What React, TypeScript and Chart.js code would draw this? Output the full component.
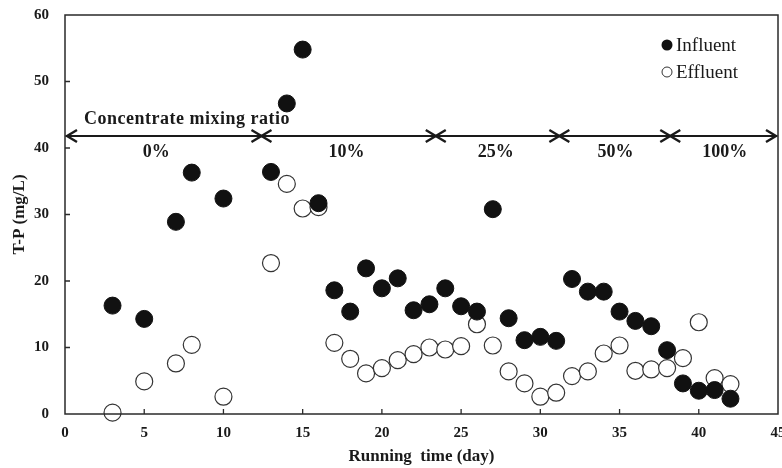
import React, { useEffect, useRef } from "react";
import { Chart, registerables } from "chart.js";

Chart.register(...registerables);

// ---- data ----
const days = [3, 5, 7, 8, 10, 13, 14, 15, 16, 17, 18, 19, 20, 21, 22, 23, 24, 25, 26, 27, 28, 29, 30, 31, 32, 33, 34, 35, 36, 37, 38, 39, 40, 41, 42];
const influent = [16.3, 14.3, 28.9, 36.3, 32.4, 36.4, 46.7, 54.8, 31.7, 18.6, 15.4, 21.9, 18.9, 20.4, 15.6, 16.5, 18.9, 16.2, 15.4, 30.8, 14.4, 11.1, 11.6, 11.0, 20.3, 18.4, 18.4, 15.4, 14.0, 13.2, 9.6, 4.6, 3.5, 3.6, 2.3];
const effluent = [0.2, 4.9, 7.6, 10.4, 2.6, 22.7, 34.6, 30.9, 31.1, 10.7, 8.3, 6.1, 6.9, 8.1, 9.0, 10.0, 9.7, 10.2, 13.5, 10.3, 6.4, 4.6, 2.6, 3.2, 5.7, 6.4, 9.1, 10.3, 6.5, 6.7, 6.9, 8.4, 13.8, 5.4, 4.5];
const seriesNames = ["Influent", "Effluent"];

const phaseBounds = [12.4, 23.4, 31.2, 38.2];
const phaseLabels = ["0%", "10%", "25%", "50%", "100%"];
const phaseLabelDays = [5.76, 17.77, 27.18, 34.75, 41.64];
const phaseLabelValue = 38.6;
const arrowValue = 41.8;
const ratioTitle = "Concentrate mixing ratio";
const ratioTitleDay = 1.2;
const ratioTitleValue = 43.6;

const xTitle = "Running  time (day)";
const yTitle = "T-P (mg/L)";

const SERIF = "'Liberation Serif', 'Times New Roman', serif";

const overlayPlugin = {
  id: "overlay",
  afterDraw(chart: any) {
    const { ctx, chartArea } = chart;
    const { left, right, top, bottom } = chartArea;
    const x = chart.scales.x;
    const y = chart.scales.y;
    ctx.save();
    // frame
    ctx.strokeStyle = "#2a2a2a";
    ctx.lineWidth = 1.5;
    ctx.strokeRect(left, top, right - left, bottom - top);
    // inner ticks
    ctx.lineWidth = 1.3;
    ctx.beginPath();
    for (let v = 5; v < 45; v += 5) {
      const px = x.getPixelForValue(v);
      ctx.moveTo(px, bottom);
      ctx.lineTo(px, bottom - 5);
    }
    for (let v = 10; v < 60; v += 10) {
      const py = y.getPixelForValue(v);
      ctx.moveTo(left, py);
      ctx.lineTo(left + 5, py);
    }
    ctx.stroke();

    // arrow line
    const yp = y.getPixelForValue(arrowValue);
    ctx.strokeStyle = "#1a1a1a";
    ctx.lineWidth = 2;
    ctx.beginPath();
    ctx.moveTo(left + 1, yp);
    ctx.lineTo(right - 1, yp);
    ctx.stroke();
    ctx.lineWidth = 2.4;
    const chevron = (tip: number, dir: number) => {
      ctx.beginPath();
      ctx.moveTo(tip - dir * 10, yp - 6);
      ctx.lineTo(tip, yp);
      ctx.lineTo(tip - dir * 10, yp + 6);
      ctx.stroke();
    };
    chevron(left + 2, -1);
    chevron(right - 2, 1);
    phaseBounds.forEach((b) => {
      const bp = x.getPixelForValue(b);
      chevron(bp, 1);
      chevron(bp, -1);
    });

    // texts
    ctx.fillStyle = "#1a1a1a";
    ctx.font = `bold 18px ${SERIF}`;
    ctx.textBaseline = "alphabetic";
    ctx.textAlign = "left";
    try { (ctx as any).letterSpacing = "0.5px"; } catch (e) {}
    ctx.fillText(ratioTitle, x.getPixelForValue(ratioTitleDay), y.getPixelForValue(ratioTitleValue));
    try { (ctx as any).letterSpacing = "0px"; } catch (e) {}
    ctx.textAlign = "center";
    phaseLabels.forEach((lab, i) => {
      ctx.fillText(lab, x.getPixelForValue(phaseLabelDays[i]), y.getPixelForValue(phaseLabelValue));
    });

    // legend
    const lx = right - 111;
    const ly1 = top + 30;
    const ly2 = top + 57;
    ctx.fillStyle = "#111";
    ctx.beginPath();
    ctx.arc(lx, ly1, 5.5, 0, Math.PI * 2);
    ctx.fill();
    ctx.strokeStyle = "#333";
    ctx.lineWidth = 1;
    ctx.beginPath();
    ctx.arc(lx, ly2, 5, 0, Math.PI * 2);
    ctx.stroke();
    ctx.fillStyle = "#1a1a1a";
    ctx.font = `19px ${SERIF}`;
    ctx.textAlign = "left";
    ctx.textBaseline = "middle";
    ctx.fillText(seriesNames[0], lx + 9, ly1 + 1);
    ctx.fillText(seriesNames[1], lx + 9, ly2 + 1);
    ctx.restore();
  },
};

export default function App() {
  const ref = useRef<HTMLCanvasElement | null>(null);
  useEffect(() => {
    if (!ref.current) return;
    const tickFont = { family: SERIF, size: 15, weight: "bold" as const };
    const titleFont = { family: SERIF, size: 17, weight: "bold" as const };
    const chart = new Chart(ref.current, {
      type: "scatter",
      data: {
        datasets: [
          {
            label: seriesNames[0],
            data: days.map((d, i) => ({ x: d, y: influent[i] })),
            pointRadius: 8.5,
            pointHoverRadius: 8.5,
            backgroundColor: "#111",
            borderColor: "#111",
            borderWidth: 1,
            clip: false as any,
          },
          {
            label: seriesNames[1],
            data: days.map((d, i) => ({ x: d, y: effluent[i] })),
            pointRadius: 8.5,
            pointHoverRadius: 8.5,
            backgroundColor: "#fff",
            borderColor: "#333",
            borderWidth: 1.2,
            clip: false as any,
          },
        ],
      },
      options: {
        animation: false,
        responsive: false,
        maintainAspectRatio: false,
        layout: { autoPadding: false, padding: { top: 15, right: 4, left: 0, bottom: 0 } },
        plugins: { legend: { display: false }, tooltip: { enabled: false } },
        scales: {
          x: {
            type: "linear",
            min: 0,
            max: 45,
            afterFit: (s: any) => {
              s.height = 54;
              s.paddingLeft = 0;
              s.paddingRight = 0;
            },
            ticks: { stepSize: 5, font: tickFont, color: "#1a1a1a", padding: 10 },
            grid: { display: false, drawTicks: false },
            border: { display: false },
            title: { display: true, text: xTitle, font: titleFont, color: "#1a1a1a", padding: { top: 0, bottom: 1 } },
          },
          y: {
            type: "linear",
            min: 0,
            max: 60,
            afterFit: (s: any) => {
              s.width = 65;
              s.paddingTop = 0;
              s.paddingBottom = 0;
            },
            ticks: { stepSize: 10, font: tickFont, color: "#1a1a1a", padding: 16 },
            grid: { display: false, drawTicks: false },
            border: { display: false },
            title: { display: true, text: yTitle, font: titleFont, color: "#1a1a1a", padding: { top: 9, bottom: 0 } },
          },
        },
      },
      plugins: [overlayPlugin],
    });
    return () => chart.destroy();
  }, []);
  return (
    <div style={{ position: "fixed", left: 0, top: 0, width: 782, height: 468, background: "#fff", overflow: "hidden" }}>
      <canvas ref={ref} width={782} height={468} />
    </div>
  );
}
